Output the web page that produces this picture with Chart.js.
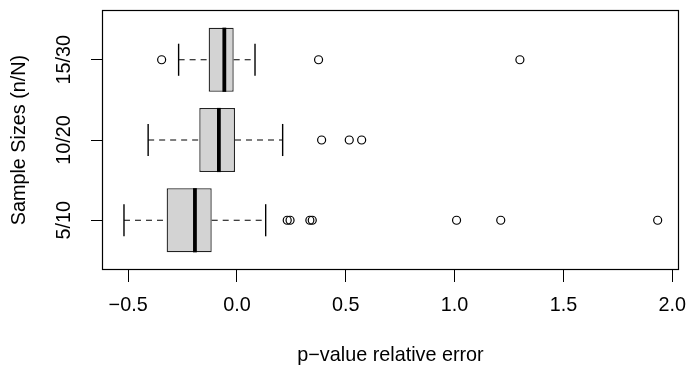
<!DOCTYPE html>
<html lang="en">
<head>
<meta charset="UTF-8">
<title>p-value relative error</title>
<script src="https://cdn.jsdelivr.net/npm/chart.js@4/dist/chart.umd.min.js"></script>
<style>
  html, body { margin: 0; padding: 0; background: #fff; }
  #wrap { width: 686px; height: 365px; }
</style>
</head>
<body>
<div id="wrap"><canvas id="box_chart"></canvas></div>
<script>
// one entry per group, bottom to top
var groups = ['5/10', '10/20', '15/30'];
var lowWhisker = [-0.519, -0.408, -0.268];
var q1 = [-0.323, -0.173, -0.130];
var medians = [-0.193, -0.083, -0.058];
var q3 = [-0.116, -0.009, -0.015];
var highWhisker = [0.132, 0.210, 0.083];
var outliers = [
  [0.231, 0.244, 0.335, 0.346, 1.009, 1.212, 1.933],
  [0.389, 0.516, 0.573],
  [-0.346, 0.375, 1.300]
];
var xTicks = [-0.5, 0, 0.5, 1, 1.5, 2];
var xTickLabels = ['\u22120.5', '0.0', '0.5', '1.0', '1.5', '2.0'];

var BOX_HALF = 0.4;     // boxwex 0.8
var STAPLE_HALF = 0.2;  // staplewex 0.5
var FONT = { family: '"Liberation Sans", Arial, Helvetica, sans-serif', size: 19.8 };

function segment(x1, y1, x2, y2, width, dash, order) {
  return {
    type: 'line',
    data: [{ x: x1, y: y1 }, { x: x2, y: y2 }],
    borderColor: '#000',
    borderWidth: width,
    borderDash: dash,
    borderCapStyle: 'butt',
    pointRadius: 0,
    fill: false,
    tension: 0,
    order: order
  };
}

var datasets = [];

datasets.push({
  type: 'bar',
  indexAxis: 'y',
  data: groups.map(function (g, i) { return { x: [q1[i], q3[i]], y: i + 1 }; }),
  backgroundColor: '#d3d3d3',
  borderColor: '#222',
  borderWidth: 1.3,
  borderSkipped: false,
  categoryPercentage: 1,
  barPercentage: 2 * BOX_HALF,
  order: 4
});

groups.forEach(function (g, i) {
  var y = i + 1;
  // whiskers
  datasets.push(segment(lowWhisker[i], y, q1[i], y, 1.2, [6, 5], 2));
  datasets.push(segment(q3[i], y, highWhisker[i], y, 1.2, [6, 5], 2));
  // staples
  datasets.push(segment(lowWhisker[i], y - STAPLE_HALF, lowWhisker[i], y + STAPLE_HALF, 1.4, [], 2));
  datasets.push(segment(highWhisker[i], y - STAPLE_HALF, highWhisker[i], y + STAPLE_HALF, 1.4, [], 2));
  // median
  datasets.push(segment(medians[i], y - BOX_HALF, medians[i], y + BOX_HALF, 3.8, [], 1));
});

var outlierPoints = [];
outliers.forEach(function (list, i) {
  list.forEach(function (v) { outlierPoints.push({ x: v, y: i + 1 }); });
});
datasets.push({
  type: 'line',
  data: outlierPoints,
  showLine: false,
  pointStyle: 'circle',
  pointRadius: 4,
  pointBorderWidth: 1.2,
  pointBorderColor: '#000',
  pointBackgroundColor: 'rgba(0,0,0,0)',
  order: 0
});

var frame = {
  id: 'frame',
  afterDraw: function (chart) {
    var a = chart.chartArea, ctx = chart.ctx;
    ctx.save();
    ctx.strokeStyle = '#000';
    ctx.lineWidth = 1.2;
    ctx.strokeRect(Math.round(a.left) + 0.5, Math.round(a.top) + 0.5,
      Math.round(a.right - a.left) - 1, Math.round(a.bottom - a.top) - 1);
    ctx.restore();
  }
};

new Chart(document.getElementById('box_chart'), {
  type: 'line',
  data: { datasets: datasets },
  plugins: [frame],
  options: {
    responsive: true,
    maintainAspectRatio: false,
    animation: false,
    events: [],
    layout: { padding: { top: 10, right: 7, left: 0, bottom: 0 } },
    plugins: { legend: { display: false }, tooltip: { enabled: false } },
    scales: {
      x: {
        type: 'linear',
        min: -0.620,
        max: 2.031,
        offset: false,
        afterBuildTicks: function (scale) {
          scale.ticks = xTicks.map(function (v) { return { value: v }; });
        },
        afterFit: function (scale) {
          scale.height = 95;
          scale.paddingLeft = 0;
          scale.paddingRight = 0;
        },
        ticks: {
          color: '#000',
          font: FONT,
          padding: 12,
          maxRotation: 0,
          autoSkip: false,
          callback: function (v, idx) { return xTickLabels[idx]; }
        },
        grid: { display: true, offset: false, drawOnChartArea: false, drawTicks: true, tickLength: 12, tickColor: '#000' },
        border: { display: false },
        title: { display: true, text: 'p\u2212value relative error', color: '#000', font: FONT, padding: { top: 0, bottom: -2 } }
      },
      y: {
        type: 'linear',
        min: 0.38,
        max: 3.62,
        offset: false,
        afterBuildTicks: function (scale) {
          scale.ticks = groups.map(function (g, i) { return { value: i + 1 }; });
        },
        afterFit: function (scale) {
          scale.width = 102;
          scale.paddingTop = 0;
          scale.paddingBottom = 0;
        },
        ticks: {
          color: '#000',
          font: FONT,
          padding: 1.5,
          minRotation: 90,
          maxRotation: 90,
          crossAlign: 'center',
          autoSkip: false,
          callback: function (v, idx) { return groups[idx]; }
        },
        grid: { display: true, offset: false, drawOnChartArea: false, drawTicks: true, tickLength: 11, tickColor: '#000' },
        border: { display: false },
        title: { display: true, text: 'Sample Sizes (n/N)', color: '#000', font: FONT, padding: { top: 8, bottom: 0 } }
      }
    }
  }
});
</script>
</body>
</html>
